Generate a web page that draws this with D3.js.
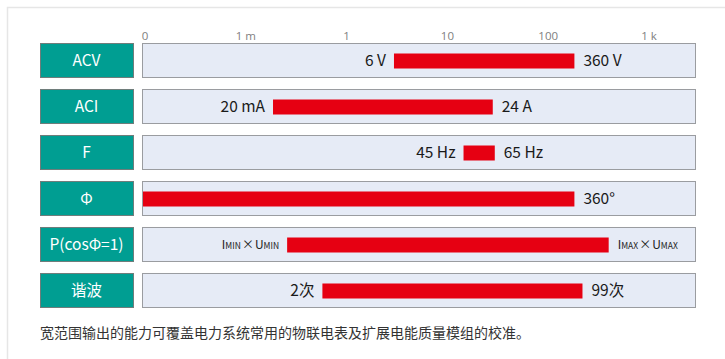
<!DOCTYPE html>
<html>
<head>
<meta charset="utf-8">
<script src="https://cdn.jsdelivr.net/npm/d3@7"></script>
<style>
  html, body { margin: 0; padding: 0; background: #fff; }
  svg { display: block; font-family: "Noto Sans CJK SC", "Noto Sans", sans-serif; }
</style>
</head>
<body>
<div id="chart"></div>
<script>
// ranges drawn on a schematic axis: positions are in tick steps (0 = "0", 5 = "1 k")
const categories = ["ACV", "ACI", "F", "Φ", "P(cosΦ=1)", "谐波"];
const rangeStart = [2.47, 1.27, 3.16, -0.03, 1.41, 1.76];
const rangeEnd = [4.26, 3.45, 3.47, 4.26, 4.60, 4.34];
const lowLabels = ["6 V", "20 mA", "45 Hz", "", "IMIN", "2次"];
const highLabels = ["360 V", "24 A", "65 Hz", "360°", "IMAX", "99次"];
const tickLabels = ["0", "1 m", "1", "10", "100", "1 k"];
const caption = "宽范围输出的能力可覆盖电力系统常用的物联电表及扩展电能质量模组的校准。";

const width = 725, height = 359;

const svg = d3.select("#chart").append("svg")
    .attr("width", width)
    .attr("height", height);

// card outline
svg.append("path")
    .attr("d", "M7.5,359 V7.5 H725")
    .attr("fill", "none")
    .attr("stroke", "#e6e6e6")
    .attr("stroke-width", 1.5);

const x = d3.scaleLinear().domain([0, 5]).range([145, 649]);
const y = d3.scaleBand().domain(categories).range([43, 308]).paddingInner(0.239).paddingOuter(0);

const panelX0 = 142, panelX1 = 696;

// tick labels
svg.append("g").selectAll("text")
    .data(tickLabels)
    .join("text")
    .attr("x", (d, i) => x(i))
    .attr("y", 40)
    .attr("text-anchor", "middle")
    .attr("fill", "#808080")
    .style("font-family", "'Open Sans', 'Noto Sans', sans-serif")
    .attr("font-size", 11.5)
    .text(d => d);

const rows = svg.append("g").selectAll("g")
    .data(categories)
    .join("g")
    .attr("transform", d => `translate(0,${y(d)})`);

const bh = y.bandwidth();

rows.append("rect")
    .attr("x", 40.5).attr("y", 0.5)
    .attr("width", 93).attr("height", bh - 1)
    .attr("fill", "#009e92")
    .attr("stroke", "#6f7d7b");

rows.append("text")
    .attr("x", 86.5).attr("y", bh / 2 + 5.5)
    .attr("text-anchor", "middle")
    .attr("fill", "#fff")
    .attr("font-size", 15.5)
    .text(d => d);

rows.append("rect")
    .attr("x", panelX0 + 0.5).attr("y", 0.5)
    .attr("width", panelX1 - panelX0 - 1).attr("height", bh - 1)
    .attr("fill", "#e6ebf6")
    .attr("stroke", "#9a9ca0");

rows.append("rect")
    .attr("x", (d, i) => Math.max(panelX0 + 1, x(rangeStart[i])))
    .attr("y", bh / 2 - 7)
    .attr("width", (d, i) => x(rangeEnd[i]) - Math.max(panelX0 + 1, x(rangeStart[i])))
    .attr("height", 15)
    .attr("fill", "#e60012");

function addLabel(sel, txt, anchor, px) {
    if (!txt) return;
    if (txt === "IMIN" || txt === "IMAX") {
        const sub = txt.slice(1);
        const t = sel.append("text")
            .attr("x", px).attr("y", bh / 2 + 5)
            .attr("text-anchor", anchor)
            .attr("fill", "#222")
            .attr("font-size", 12);
        t.append("tspan").text("I");
        t.append("tspan").attr("font-size", 8.5).text(sub);
        t.append("tspan").attr("dx", 1).text("×");
        t.append("tspan").attr("dx", 1).text("U");
        t.append("tspan").attr("font-size", 8.5).text(sub);
        return;
    }
    sel.append("text")
        .attr("x", px).attr("y", bh / 2 + 5.5)
        .attr("text-anchor", anchor)
        .attr("fill", "#1a1a1a")
        .attr("font-size", 15.5)
        .text(txt);
}

rows.each(function (d, i) {
    const g = d3.select(this);
    addLabel(g, lowLabels[i], "end", x(rangeStart[i]) - 8);
    addLabel(g, highLabels[i], "start", x(rangeEnd[i]) + 9);
});

svg.append("text")
    .attr("x", 40).attr("y", 338)
    .attr("fill", "#333")
    .attr("font-size", 14)
    .text(caption);
</script>
</body>
</html>
